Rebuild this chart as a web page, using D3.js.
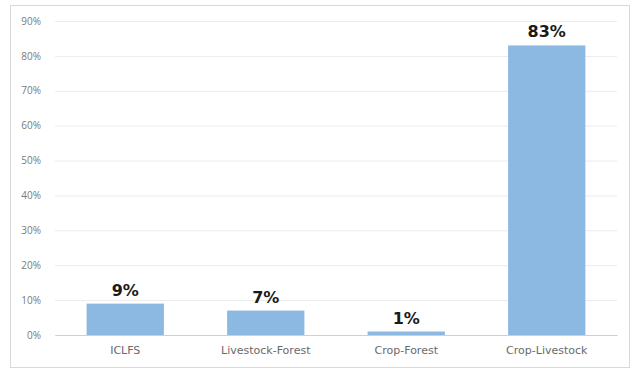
<!DOCTYPE html>
<html><head><meta charset="utf-8">
<script src="https://cdn.jsdelivr.net/npm/d3@7"></script>
<style>body{margin:0;background:#fff;}svg{display:block;}</style>
</head><body>
<svg id="chart" width="639" height="376"></svg>
<script>
const categories = ["ICLFS", "Livestock-Forest", "Crop-Forest", "Crop-Livestock"];
const values = [9, 7, 1, 83];
const yTicks = [0, 10, 20, 30, 40, 50, 60, 70, 80, 90];

const svg = d3.select("#chart");
const W = 639, H = 376;
const m = {left: 55, right: 22, top: 21, bottom: 41};

svg.append("rect").attr("x", 10.5).attr("y", 5.5).attr("width", 619).attr("height", 362)
  .attr("fill", "#fff").attr("stroke", "#d9d9d9");

const x = d3.scaleBand().domain(categories).range([m.left, W - m.right]).paddingInner(0.45).paddingOuter(0.225);
const y = d3.scaleLinear().domain([0, 90]).range([H - m.bottom, m.top]);

const gy = svg.append("g").attr("transform", `translate(${m.left},0)`)
  .call(d3.axisLeft(y).tickValues(yTicks).tickFormat(d => d + "%").tickSize(-(W - m.right - m.left)).tickPadding(14));
gy.select(".domain").remove();
gy.selectAll(".tick line").attr("stroke", "#ebebeb");
gy.selectAll(".tick text").attr("fill", "#7a7a7a").style("font-family", "'Open Sans', sans-serif").style("font-size", "10px");

svg.selectAll("rect.bar").data(values).enter().append("rect").attr("class", "bar")
  .attr("x", (d, i) => x(categories[i])).attr("width", x.bandwidth())
  .attr("y", d => y(d)).attr("height", d => y(0) - y(d)).attr("fill", "#8cb9e2");

const gx = svg.append("g").attr("transform", `translate(0,${y(0)})`)
  .call(d3.axisBottom(x).tickSize(0).tickPadding(11).tickSizeOuter(0));
gx.select(".domain").attr("stroke", "#d0d0d0");
gx.selectAll(".tick text").attr("fill", "#6a6a6a").style("font-family", "'DejaVu Sans', sans-serif").style("font-size", "11px");

svg.selectAll("text.lbl").data(values).enter().append("text").attr("class", "lbl")
  .attr("x", (d, i) => x(categories[i]) + x.bandwidth() / 2).attr("y", d => y(d) - 8)
  .attr("text-anchor", "middle").attr("fill", "#1a1a1a")
  .style("font-family", "'DejaVu Sans', sans-serif").style("font-weight", "bold").style("font-size", "16px")
  .text(d => d + "%");
</script>
</body></html>
